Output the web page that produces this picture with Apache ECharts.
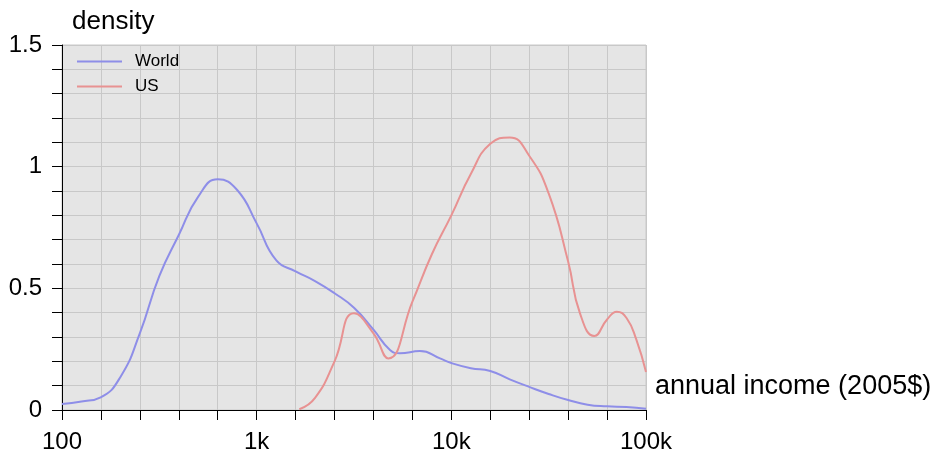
<!DOCTYPE html>
<html>
<head>
<meta charset="utf-8">
<script src="https://cdn.jsdelivr.net/npm/echarts@6/dist/echarts.min.js"></script>
<style>
html,body{margin:0;padding:0;background:#fff;}
#chart{width:931px;height:455px;}
</style>
</head>
<body>
<div id="chart"></div>
<script>
// Annual income (2005$) sample points and density values
const worldIncome  = [100, 126, 158, 200, 251, 316, 398, 501, 631, 794, 1000, 1259, 1585, 1995, 2512, 3162, 3981, 4841, 5450, 6902, 8746, 10000, 12589, 15849, 19953, 25119, 31623, 39811, 50119, 63096, 79433, 100000];
const worldDensity = [0.025, 0.035, 0.052, 0.137, 0.315, 0.55, 0.719, 0.877, 0.948, 0.904, 0.767, 0.616, 0.57, 0.53, 0.48, 0.42, 0.33, 0.247, 0.233, 0.242, 0.212, 0.193, 0.172, 0.16, 0.126, 0.095, 0.066, 0.041, 0.022, 0.015, 0.012, 0.005];

const usIncome  = [1656, 1995, 2512, 3162, 3981, 4746, 6310, 7943, 10000, 12589, 15849, 19953, 25119, 31623, 39811, 45810, 54260, 63096, 70795, 79433, 89125, 100000];
const usDensity = [0.003, 0.05, 0.2, 0.398, 0.315, 0.212, 0.445, 0.64, 0.80, 0.97, 1.094, 1.12, 1.045, 0.89, 0.61, 0.397, 0.304, 0.372, 0.404, 0.378, 0.29, 0.156];

// x tick labels at powers of ten
const xTickValues = [100, 1000, 10000, 100000];
const xTickLabels = ['100', '1k', '10k', '100k'];
const yTickLabels = ['0', '0.5', '1', '1.5'];

const seriesNames = ['World', 'US'];
const xAxisName = 'annual income (2005$)';
const yAxisName = 'density';

function toPoints(inc, dens) {
  return inc.map((v, i) => [Math.log10(v), dens[i]]);
}

const FONT = '"Liberation Sans", Arial, Helvetica, sans-serif';
const WORLD = '#8e8ee8';
const US = '#e89292';
const chart = echarts.init(document.getElementById('chart'), null, {renderer: 'canvas'});

chart.setOption({
  animation: false,
  backgroundColor: '#ffffff',
  textStyle: {fontFamily: FONT},
  grid: {
    left: 62, right: 285, top: 45, bottom: 45,
    containLabel: false, outerBoundsMode: 'none',
    show: true, backgroundColor: '#e5e5e5', borderColor: '#c8c8c8', borderWidth: 1
  },
  legend: {
    data: [
      {name: seriesNames[0], icon: 'rect', itemStyle: {color: WORLD}},
      {name: seriesNames[1], icon: 'rect', itemStyle: {color: US}}
    ],
    orient: 'vertical',
    left: 72, top: 48,
    itemWidth: 45, itemHeight: 2, itemGap: 8,
    textStyle: {fontSize: 17, color: '#000', fontFamily: FONT, padding: [0, 0, 0, 8]}
  },
  xAxis: {
    type: 'value',
    min: 2, max: 5, interval: 0.2,
    name: xAxisName,
    nameLocation: 'end',
    nameGap: 9,
    nameTextStyle: {fontSize: 27, color: '#000', fontFamily: FONT, verticalAlign: 'bottom', lineHeight: 46},
    axisLine: {show: true, onZero: false, lineStyle: {color: '#000', width: 1}},
    axisTick: {show: true, length: 10, lineStyle: {color: '#000'}},
    splitLine: {show: true, lineStyle: {color: '#c8c8c8', width: 1}},
    axisLabel: {
      interval: 0, margin: 20, fontSize: 24, color: '#000', fontFamily: FONT,
      formatter: function (v) {
        for (let i = 0; i < xTickValues.length; i++) {
          if (Math.abs(Math.log10(xTickValues[i]) - v) < 1e-6) return xTickLabels[i];
        }
        return '';
      }
    }
  },
  yAxis: {
    type: 'value',
    min: 0, max: 1.5, interval: 0.1,
    name: yAxisName,
    nameLocation: 'end',
    nameGap: 23,
    nameTextStyle: {fontSize: 26, color: '#000', fontFamily: FONT, align: 'left', verticalAlign: 'middle', padding: [0, 0, 0, 10]},
    axisLine: {show: true, lineStyle: {color: '#000', width: 1}},
    axisTick: {show: true, length: 10, lineStyle: {color: '#000'}},
    splitLine: {show: true, lineStyle: {color: '#c8c8c8', width: 1}},
    axisLabel: {
      margin: 20, fontSize: 24, color: '#000', fontFamily: FONT,
      formatter: function (v) {
        const k = Math.round(v * 10);
        if (k % 5 !== 0) return '';
        return yTickLabels[k / 5];
      }
    }
  },
  series: [
    {
      name: seriesNames[0], type: 'line', data: toPoints(worldIncome, worldDensity),
      symbol: 'none', smooth: 0.5,
      lineStyle: {color: WORLD, width: 2}, itemStyle: {color: WORLD}
    },
    {
      name: seriesNames[1], type: 'line', data: toPoints(usIncome, usDensity),
      symbol: 'none', smooth: 0.5,
      lineStyle: {color: US, width: 2}, itemStyle: {color: US}
    }
  ]
});
</script>
</body>
</html>
